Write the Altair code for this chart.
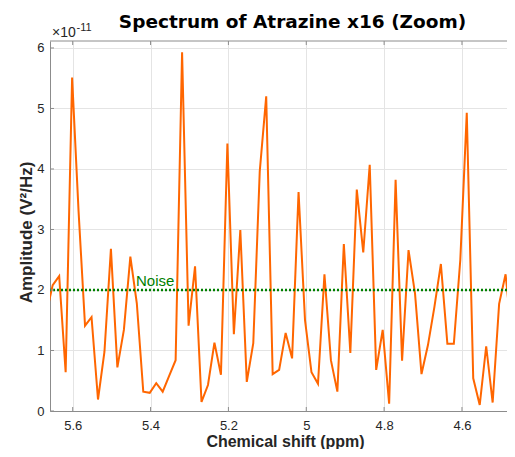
import altair as alt
import pandas as pd

# Chemical shift (ppm) of each sample
ppm = [5.6680, 5.6514, 5.6347, 5.6181, 5.6015, 5.5849, 5.5683, 5.5516, 5.5350, 5.5184,
       5.5018, 5.4852, 5.4685, 5.4519, 5.4353, 5.4187, 5.4021, 5.3854, 5.3688, 5.3522,
       5.3356, 5.3190, 5.3023, 5.2857, 5.2691, 5.2525, 5.2359, 5.2192, 5.2026, 5.1860,
       5.1694, 5.1528, 5.1361, 5.1195, 5.1029, 5.0863, 5.0697, 5.0530, 5.0364, 5.0198,
       5.0032, 4.9866, 4.9699, 4.9533, 4.9367, 4.9201, 4.9035, 4.8868, 4.8702, 4.8536,
       4.8370, 4.8204, 4.8037, 4.7871, 4.7705, 4.7539, 4.7373, 4.7206, 4.7040, 4.6874,
       4.6708, 4.6542, 4.6375, 4.6209, 4.6043, 4.5877, 4.5711, 4.5544, 4.5378, 4.5212,
       4.5046, 4.4880, 4.4713, 4.4547]

# Amplitude in units of 1e-11 V^2/Hz
amplitude_e11 = [1.60, 2.08, 2.23, 0.64, 5.51, 3.30, 1.41, 1.55, 0.19, 0.98,
                 2.68, 0.72, 1.34, 2.55, 1.78, 0.32, 0.30, 0.46, 0.32, 0.58,
                 0.84, 5.93, 1.41, 2.39, 0.15, 0.43, 1.13, 0.60, 4.42, 1.27,
                 2.99, 0.48, 1.12, 3.96, 5.20, 0.61, 0.68, 1.29, 0.87, 3.62,
                 1.50, 0.64, 0.45, 2.26, 0.84, 0.32, 2.76, 0.96, 3.66, 2.62,
                 4.07, 0.68, 1.34, 0.12, 3.82, 0.83, 2.66, 1.94, 0.61, 1.09,
                 1.72, 2.43, 1.11, 1.11, 2.50, 4.93, 0.54, 0.10, 1.07, 0.14,
                 1.77, 2.26, 1.20, 0.15]

noise_level = 2.0
noise_label_ppm = 5.4374
x_ticks = [5.6, 5.4, 5.2, 5.0, 4.8, 4.6]
y_ticks = [0, 1, 2, 3, 4, 5, 6]
x_domain = [4.4638, 5.6583]
y_domain = [0, 6.115]

TITLE = "Spectrum of Atrazine x16 (Zoom)"
XTITLE = "Chemical shift (ppm)"
YTITLE = "Amplitude (V\u00b2/Hz)"

W, H = 465, 370
AXC = "#8c8c8c"
TXT = "#262626"

df = pd.DataFrame({"ppm": ppm, "amp": amplitude_e11})
xt = pd.DataFrame({"t": x_ticks})
yt = pd.DataFrame({"t": y_ticks})

xscale = alt.Scale(domain=x_domain, reverse=True, nice=False, zero=False)
yscale = alt.Scale(domain=y_domain, nice=False, zero=False)

line = alt.Chart(df).mark_line(color="#FF6600", strokeWidth=2, clip=True).encode(
    x=alt.X("ppm:Q", scale=xscale,
            axis=alt.Axis(values=x_ticks, format=".1~f", title=XTITLE,
                          titleX=235, titleY=35, titleBaseline="alphabetic",
                          titleAlign="center", titleFontSize=16, labelPadding=8)),
    y=alt.Y("amp:Q", scale=yscale,
            axis=alt.Axis(values=y_ticks, format="d", title=YTITLE,
                          titleX=-19, titleY=191, titleAngle=270,
                          titleBaseline="alphabetic", titleAlign="center",
                          labelPadding=6)),
)

noise = alt.Chart().mark_rule(color="#008000", strokeWidth=2.4, strokeDash=[2, 2]).encode(
    y=alt.datum(noise_level, scale=yscale),
)

noise_txt = alt.Chart().mark_text(
    text="Noise", color="#008000", font="Liberation Sans", fontSize=15,
    align="left", baseline="alphabetic", dy=-4
).encode(
    x=alt.datum(noise_label_ppm, scale=xscale),
    y=alt.datum(noise_level, scale=yscale),
)

bot_ticks = alt.Chart(xt).mark_rule(color=AXC, strokeWidth=1).encode(
    x=alt.X("t:Q", scale=xscale), y=alt.value(H), y2=alt.value(H - 4))
top_ticks = alt.Chart(xt).mark_rule(color=AXC, strokeWidth=1).encode(
    x=alt.X("t:Q", scale=xscale), y=alt.value(0), y2=alt.value(4))
left_ticks = alt.Chart(yt).mark_rule(color=AXC, strokeWidth=1).encode(
    y=alt.Y("t:Q", scale=yscale), x=alt.value(0), x2=alt.value(4))
top_line = alt.Chart().mark_rule(color=AXC, strokeWidth=1).encode(
    x=alt.value(0), x2=alt.value(W), y=alt.value(0))

exp_base = alt.Chart().mark_text(
    text="\u00d710", font="Liberation Sans", fontSize=14, color=TXT,
    align="left", baseline="alphabetic").encode(x=alt.value(2), y=alt.value(-4))
exp_sup = alt.Chart().mark_text(
    text="-11", font="Liberation Sans", fontSize=11, color=TXT,
    align="left", baseline="alphabetic").encode(x=alt.value(26.5), y=alt.value(-10.5))

title_txt = alt.Chart().mark_text(
    text=TITLE, font="DejaVu Sans", fontSize=18.5, fontWeight="bold", color="#000000",
    align="center", baseline="alphabetic").encode(x=alt.value(242.5), y=alt.value(-12.7))

chart = alt.layer(
    line, noise, noise_txt, bot_ticks, top_ticks, left_ticks, top_line,
    exp_base, exp_sup, title_txt
).properties(
    width=W, height=H,
    padding={"left": 42, "top": 33, "right": -8, "bottom": 38},
    autosize=alt.AutoSizeParams(type="none"),
).configure_view(stroke=None).configure_axis(
    labelFont="Liberation Sans", labelFontSize=13, labelColor=TXT,
    titleFont="Liberation Sans", titleFontSize=17, titleFontWeight="bold", titleColor=TXT,
    grid=True, gridColor="#e4e4e4", gridWidth=1,
    domainColor=AXC, domainWidth=1, ticks=False, tickSize=0,
)

chart.save("out.html", embed_options={"renderer": "svg", "actions": False})
